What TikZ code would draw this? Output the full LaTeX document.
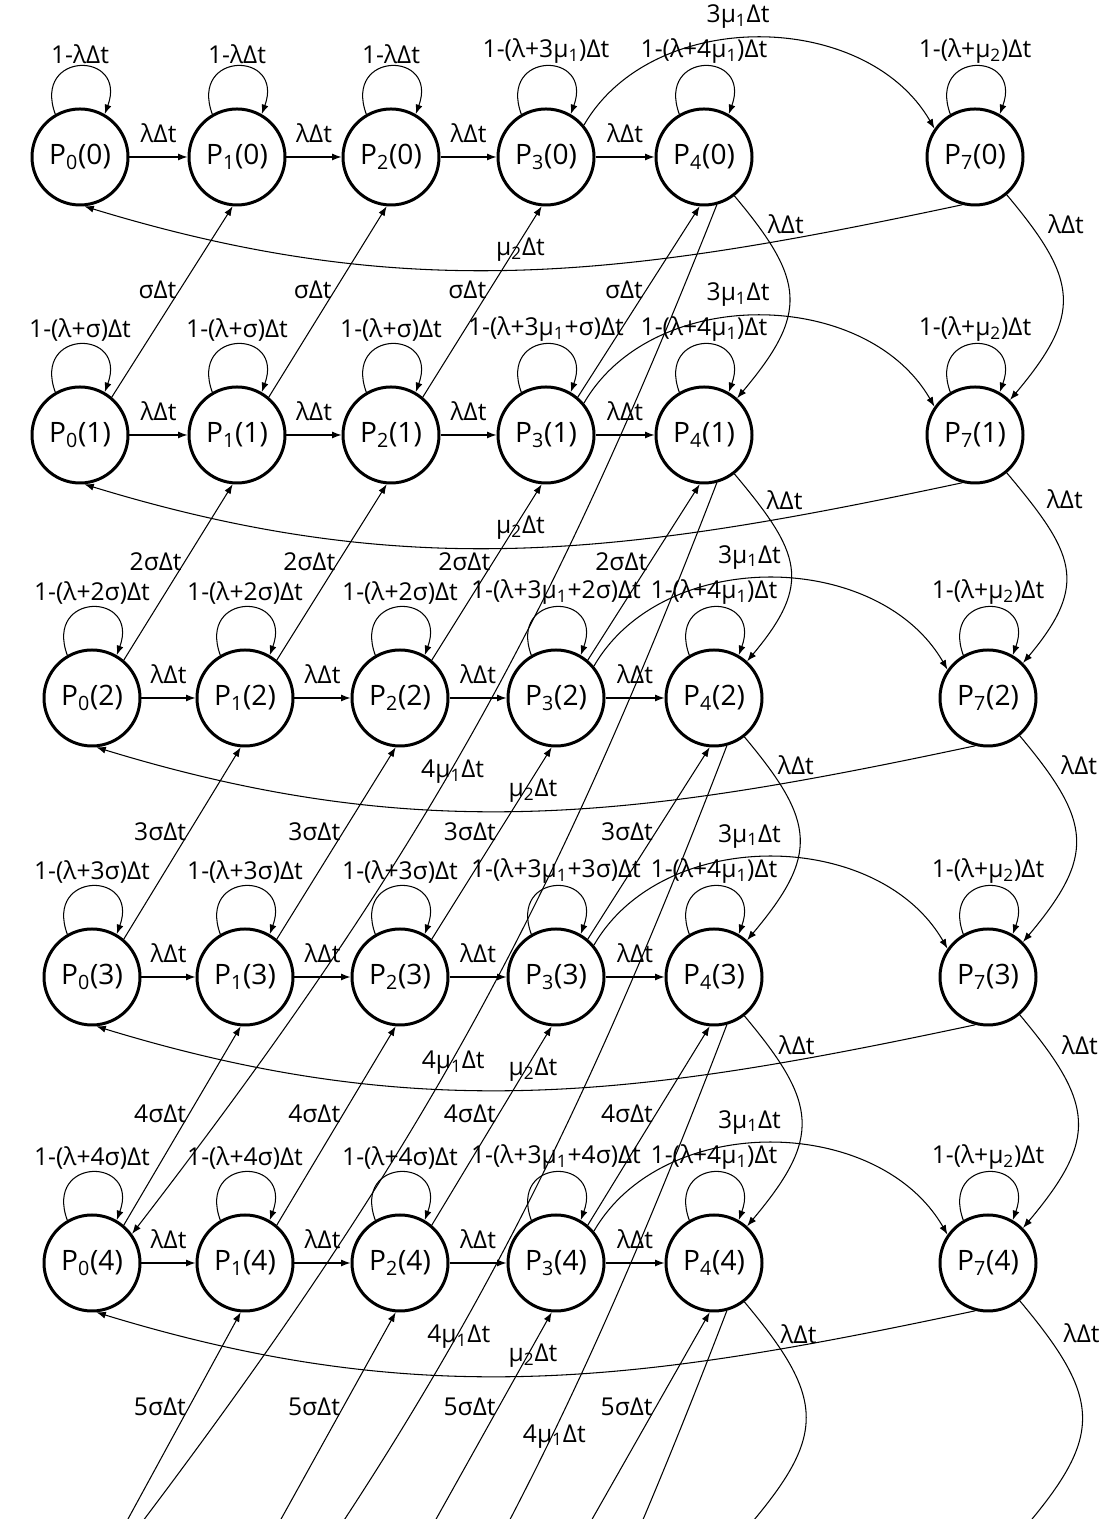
\documentclass[tikz,border=0pt]{standalone}
\usepackage{fontspec}
\setmainfont{Open Sans}
\usetikzlibrary{arrows.meta}
\usetikzlibrary{calc}
\newcommand\sub[1]{\textsubscript{#1}}
\newcommand\ksig[1]{\ifnum#1=1 \else#1\fi σ}

\tikzset{
  pnode/.style={circle, draw, line width=1.7pt, minimum size=19.2mm, inner sep=0pt, font=\fontsize{16}{18}\selectfont},
  ghost/.style={circle, minimum size=19.2mm, inner sep=0pt},
  rate/.style={font=\fontsize{14}{16}\selectfont, inner sep=1.5pt},
  >={Latex[length=1.9mm,width=1.4mm]},
}

\begin{document}
\begin{tikzpicture}[x=0.2mm, y=0.2mm, semithick]

\useasboundingbox (0,0) rectangle (1101,1519);
\clip (0,0) rectangle (1101,1519);

% states
\foreach \k/\y/\xa/\xb/\xc/\xd/\xe/\xf in {0/1362/80/237/391/546/704/975, 1/1084/80/237/391/546/704/975, 2/821/92/245/400/556/714/988, 3/542/92/245/400/556/714/988, 4/256/92/245/400/556/714/988}{
  \node[pnode] (P0-\k) at (\xa,\y) {P\sub{0}(\k)};
  \node[pnode] (P1-\k) at (\xb,\y) {P\sub{1}(\k)};
  \node[pnode] (P2-\k) at (\xc,\y) {P\sub{2}(\k)};
  \node[pnode] (P3-\k) at (\xd,\y) {P\sub{3}(\k)};
  \node[pnode] (P4-\k) at (\xe,\y) {P\sub{4}(\k)};
  \node[pnode] (P7-\k) at (\xf,\y) {P\sub{7}(\k)};
}

% rows below the cut
\foreach \i/\x in {0/92,1/245,2/400,3/556,4/714,7/988}
  \node[ghost] (P\i-5) at (\x,-46) {};
\node[ghost] (P0-6) at (92,-329) {};
\node[ghost] (P0-7) at (92,-612) {};
\node[ghost] (P0-8) at (92,-895) {};

% self loops
\foreach \k in {0,...,4}{
  \ifnum\k=0
    \def\lowlbl{1-λΔt}\def\thrlbl{1-(λ+3μ\sub{1})Δt}
  \else
    \def\lowlbl{1-(λ+\ksig{\k})Δt}\def\thrlbl{1-(λ+3μ\sub{1}+\ksig{\k})Δt}
  \fi
  \foreach \i in {0,1,2}
    \draw[->] (P\i-\k.120) to[out=110,in=70,looseness=3.5] node[rate,above] {\lowlbl} (P\i-\k.60);
  \draw[->] (P3-\k.120) to[out=110,in=70,looseness=3.5] node[rate,above] {\thrlbl} (P3-\k.60);
  \draw[->] (P4-\k.120) to[out=110,in=70,looseness=3.5] node[rate,above] {1-(λ+4μ\sub{1})Δt} (P4-\k.60);
  \draw[->] (P7-\k.120) to[out=110,in=70,looseness=3.5] node[rate,above] {1-(λ+μ\sub{2})Δt} (P7-\k.60);
}

% arrivals, repairs
\foreach \k in {0,...,4}{
  \pgfmathtruncatemacro\kk{\k+1}
  \foreach \i/\j in {0/1,1/2,2/3,3/4}
    \draw[->] (P\i-\k) -- node[rate,above=2.2mm] {λΔt} (P\j-\k);
  \draw[->] (P3-\k.40) to[out=60,in=120] node[rate,above=1.3mm,pos=0.45] {3μ\sub{1}Δt} (P7-\k.145);
  \draw[->] (P4-\k.-52) to[out=-50,in=50,looseness=1.4] node[rate,right=1.5mm,pos=0.12] {λΔt} (P4-\kk.48);
  \draw[->] (P7-\k.-50) to[out=-50,in=50,looseness=1.4] node[rate,right=3mm,pos=0.12] {λΔt} (P7-\kk.45);
  \draw[->] (P7-\k.-105) to[out=192,in=-17] node[rate,above=1mm,midway] {μ\sub{2}Δt} (P0-\k.-85);
  \foreach \i/\j in {0/1,1/2,2/3,3/4}
    \draw[->] (P\i-\kk.50) -- node[rate,left,pos=0.56] {\ksig{\kk}Δt} (P\j-\k.-95);
}

% 4mu1 jumps
\foreach \k/\p in {0/0.53,1/0.53,2/0.53,3/0.35}{
  \pgfmathtruncatemacro\m{\k+4}
  \draw[->] (P4-\k.-75) to[bend left=8] node[rate,pos=\p,xshift=0.5mm] {4μ\sub{1}Δt} (P0-\m.36);
}
\draw[->] (P4-4.-75) to[bend left=8] (P0-8.36);

\end{tikzpicture}
\end{document}
